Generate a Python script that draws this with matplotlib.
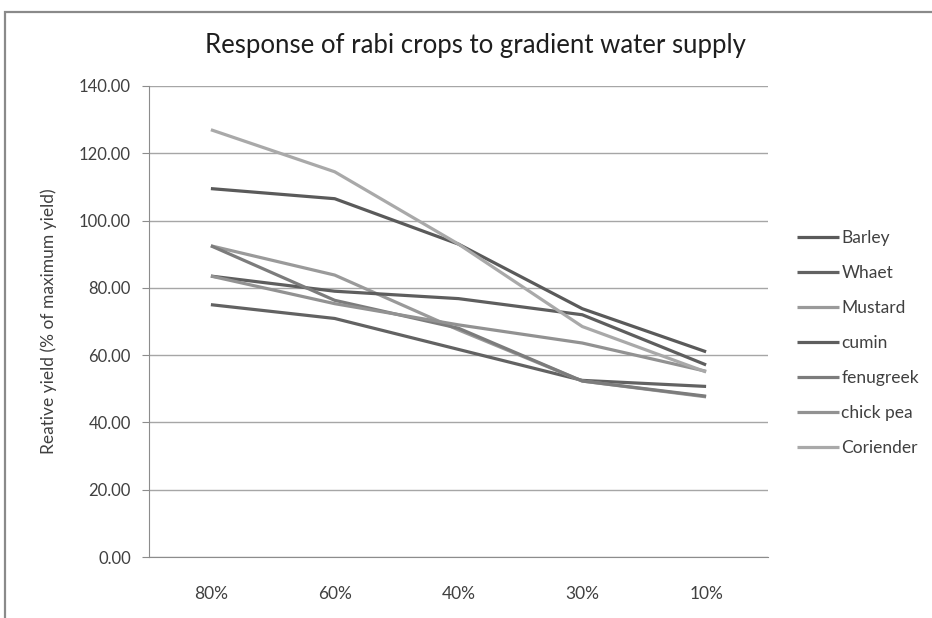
import matplotlib
matplotlib.use("Agg")
import matplotlib.pyplot as plt
from matplotlib.patches import Rectangle

plt.rcParams["font.family"] = ["Lato", "DejaVu Sans"]

# water supply levels and relative yields (% of maximum)
supply = ["80%", "60%", "40%", "30%", "10%"]
barley = [109.5, 106.5, 93.0, 73.8, 61.0]
whaet = [75.0, 70.9, 61.7, 52.5, 50.7]
mustard = [92.5, 83.8, 67.5, 52.3, 47.6]
cumin = [83.5, 79.0, 76.8, 72.0, 57.1]
fenugreek = [92.5, 76.3, 68.0, 52.3, 47.8]
chick_pea = [83.5, 75.3, 69.0, 63.6, 55.2]
coriender = [127.0, 114.5, 93.0, 68.5, 55.0]

names = ["Barley", "Whaet", "Mustard", "cumin", "fenugreek", "chick pea", "Coriender"]
series = [barley, whaet, mustard, cumin, fenugreek, chick_pea, coriender]
colors = ["#5a5a5a", "#626262", "#9a9a9a", "#5e5e5e", "#7c7c7c", "#929292", "#a9a9a9"]

fig = plt.figure(figsize=(9.32, 6.18), dpi=100)
# chart frame, cut off at the right and bottom like the source image
fig.patches.append(Rectangle((5 / 932, -0.1), 1.2, 1.1 - 12 / 618, transform=fig.transFigure,
                             facecolor="none", edgecolor="#8a8a8a", linewidth=1.6))
ax = fig.add_axes([149 / 932, 61 / 618, 619 / 932, 471 / 618])

x = range(len(supply))
for vals, name, col in zip(series, names, colors):
    ax.plot(x, vals, color=col, lw=2.3, label=name, solid_capstyle="butt")

ax.set_xlim(-0.5, len(supply) - 0.5)
ax.set_ylim(0, 140)
ax.set_yticks(range(0, 141, 20))
ax.set_yticklabels([f"{v:.2f}" for v in range(0, 141, 20)])
ax.set_xticks(list(x))
ax.set_xticklabels(supply)
ax.grid(axis="y", color="#a6a6a6", lw=1)
ax.set_axisbelow(True)
for s in ["top", "right"]:
    ax.spines[s].set_visible(False)
ax.spines["left"].set_color("#8c8c8c")
ax.spines["bottom"].set_color("#8c8c8c")
ax.tick_params(axis="y", length=5, color="#8c8c8c", labelsize=12, labelcolor="#404040", pad=8)
ax.tick_params(axis="x", length=0, labelsize=12.5, labelcolor="#404040", pad=21)

ax.set_ylabel("Reative yield (% of maximum yield)", fontsize=12.5, color="#404040", labelpad=16)
fig.text(0.51, 1 - 45 / 618, "Response of rabi crops to gradient water supply",
         ha="center", va="center", fontsize=18.5, color="#1e1e1e")

ax.legend(loc="center left", bbox_to_anchor=(797 / 932, 1 - 343 / 618), bbox_transform=fig.transFigure,
          frameon=False, fontsize=12.5, labelspacing=1.1, handlelength=2.4, handletextpad=0.15,
          borderpad=0, borderaxespad=0, labelcolor="#404040")

fig.savefig("out.png", dpi=100, facecolor="white")
